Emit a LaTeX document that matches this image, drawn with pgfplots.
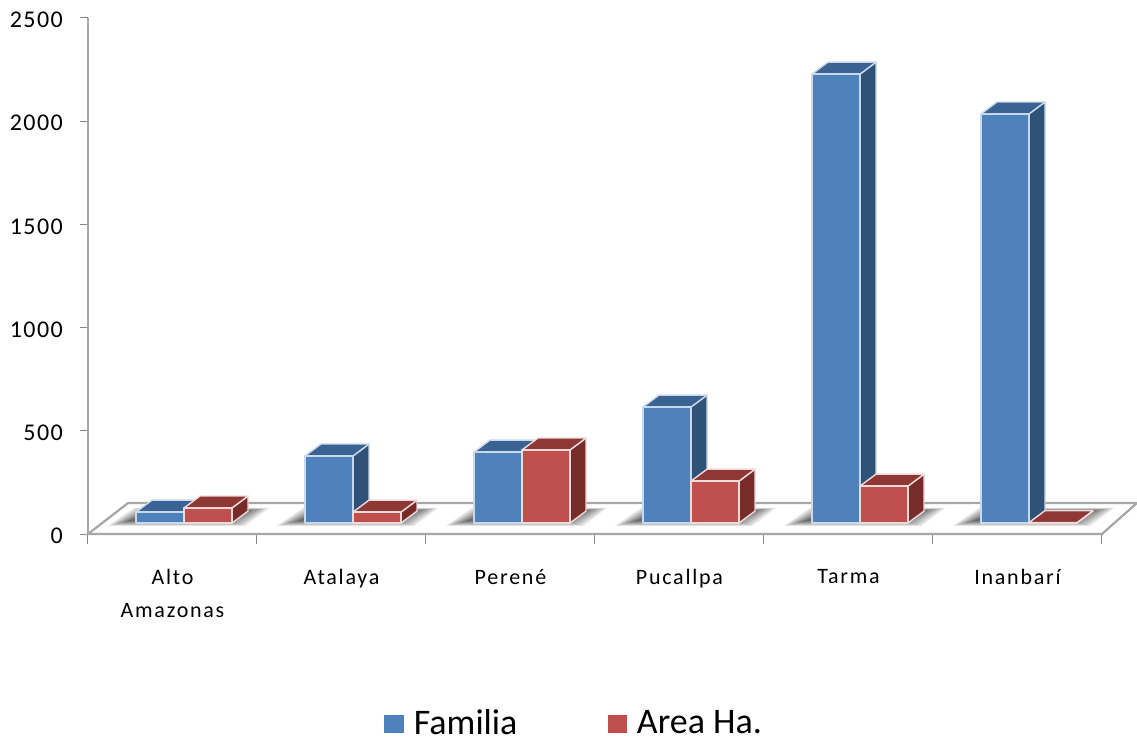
\documentclass[border=0pt]{standalone}
\usepackage{fontspec}
\setmainfont{Carlito}[LetterSpace=8]
\newfontfamily\digitfont{Carlito}[LetterSpace=6]
\newfontfamily\legfont{Carlito}
\usepackage{pgfplots}
\pgfplotsset{compat=1.18}

\definecolor{bluefront}{HTML}{4F81BD}
\definecolor{blueside}{HTML}{2F5279}
\definecolor{bluetop}{HTML}{3A6293}
\definecolor{blueedge}{HTML}{C9D8EA}
\definecolor{redfront}{HTML}{C0504D}
\definecolor{redside}{HTML}{772C2A}
\definecolor{redtop}{HTML}{8F3735}
\definecolor{rededge}{HTML}{EEDAD9}
\definecolor{axisgray}{HTML}{A6A6A6}
\definecolor{tickgray}{HTML}{868686}

% one shadow layer: group index, inset in px
\newcommand\shadowlayer[2]{%
  \pgfmathsetmacro\xa{#1+0.284+(-28+#2)/169}
  \pgfmathsetmacro\xb{#1+0.284+(-2+#2)/169}
  \pgfmathsetmacro\xc{#1+0.284+(133-#2)/169}
  \pgfmathsetmacro\xd{#1+0.284+(109-#2)/169}
  \pgfmathsetmacro\ya{39+#2*1.2}
  \pgfmathsetmacro\yb{126-#2*0.6}
  \addplot[forget plot, draw=none, fill=black, fill opacity=0.1]
    coordinates {(\xa,\ya) (\xb,\yb) (\xc,\yb) (\xd,\ya)} --cycle;
}
\newcommand\groupshadow[1]{%
  \shadowlayer{#1}{0}\shadowlayer{#1}{3}\shadowlayer{#1}{6}\shadowlayer{#1}{9}
  \shadowlayer{#1}{12}\shadowlayer{#1}{15}\shadowlayer{#1}{18}\shadowlayer{#1}{21}
}
% 3D bar: left x, value, series colour prefix
\newcommand\threedbar[3]{%
  \pgfmathsetmacro\xl{#1}
  \pgfmathsetmacro\xr{#1+0.284}
  \pgfmathsetmacro\xlb{\xl+0.095}
  \pgfmathsetmacro\xrb{\xr+0.095}
  \pgfmathsetmacro\yt{53+#2}
  \pgfmathsetmacro\ytb{\yt+58}
  \addplot[forget plot, draw=#3edge, line width=1.4pt, line join=round, fill=#3side]
    coordinates {(\xr,53) (\xr,\yt) (\xrb,\ytb) (\xrb,111)} --cycle;
  \addplot[forget plot, draw=#3edge, line width=1.4pt, line join=round, fill=#3top]
    coordinates {(\xl,\yt) (\xr,\yt) (\xrb,\ytb) (\xlb,\ytb)} --cycle;
  \addplot[forget plot, draw=#3edge, line width=1.4pt, line join=round, fill=#3front]
    coordinates {(\xl,53) (\xr,53) (\xr,\yt) (\xl,\yt)} --cycle;
}

\begin{document}
\begin{tikzpicture}[x=1pt,y=1pt]
\useasboundingbox (0,0) rectangle (1137,742);
\begin{axis}[
    at={(88pt,208pt)},
    anchor=south west,
    scale only axis,
    width=1014pt,
    height=516pt,
    clip=false,
    xmin=0, xmax=6,
    ymin=0, ymax=2500,
    axis x line*=bottom,
    axis y line*=left,
    axis line style={draw=axisgray, line width=2.2pt, -},
    xtick={0.5,1.5,2.5,3.5,4.5,5.5},
    xticklabels={{Alto\\Amazonas},Atalaya,Perené,Pucallpa,Tarma,Inanbarí},
    minor xtick={0,1,2,3,4,5,6},
    ytick={0,500,1000,1500,2000,2500},
    tick align=outside,
    major tick length=8pt,
    minor tick length=10pt,
    tick style={draw=tickgray, line width=1pt},
    major x tick style={draw=none},
    x tick label style={font=\fontsize{22}{33}\selectfont, align=center, inner sep=0pt, yshift=-27pt},
    y tick label style={font=\digitfont\fontsize{24}{24}\selectfont, inner sep=0pt, xshift=-17pt, yshift=-2pt},
    /pgf/number format/assume math mode=true,
    /pgf/number format/1000 sep={},
    legend columns=2,
    legend cell align=left,
    legend style={
        at={(0.479,-0.366)}, anchor=center, draw=none, fill=none,
        font=\legfont\fontsize{36}{40}\selectfont,
        /tikz/every odd column/.style={column sep=9pt},
        /tikz/every even column/.style={column sep=88pt},
    },
]
% floor
\addplot[forget plot, draw=axisgray, line width=2.2pt, fill=white]
  coordinates {(0,0) (6,0) (6.207,150) (0.237,150)} --cycle;

\groupshadow{0}\groupshadow{1}\groupshadow{2}
\groupshadow{3}\groupshadow{4}\groupshadow{5}

% Alto Amazonas
\threedbar{0.284}{53}{blue}
\threedbar{0.568}{73}{red}
% Atalaya
\threedbar{1.284}{325}{blue}
\threedbar{1.568}{53}{red}
% Perené
\threedbar{2.284}{344}{blue}
\threedbar{2.568}{354}{red}
% Pucallpa
\threedbar{3.284}{562}{blue}
\threedbar{3.568}{203}{red}
% Tarma
\threedbar{4.284}{2175}{blue}
\threedbar{4.568}{179}{red}
% Inanbarí
\threedbar{5.284}{1982}{blue}
\threedbar{5.568}{2}{red}

\addlegendimage{legend image code/.code={\fill[bluefront] (0pt,-9pt) rectangle (19pt,8pt);}}
\addlegendentry{Familia}
\addlegendimage{legend image code/.code={\fill[redfront] (0pt,-9pt) rectangle (18pt,8pt);}}
\addlegendentry{Area Ha.}
\end{axis}
\end{tikzpicture}
\end{document}
